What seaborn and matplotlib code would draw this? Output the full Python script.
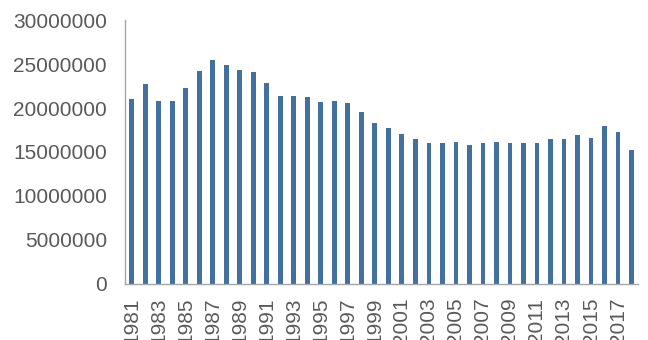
import matplotlib
matplotlib.use("Agg")
import matplotlib.pyplot as plt
import seaborn as sns
import pandas as pd
import numpy as np
from matplotlib.ticker import FixedLocator

years = list(range(1981, 2019))
values = [21.0, 22.7, 20.8, 20.8, 22.3, 24.25, 25.5, 24.9, 24.3, 24.05,
          22.9, 21.4, 21.4, 21.25, 20.7, 20.8, 20.55, 19.5, 18.3, 17.75,
          17.0, 16.45, 16.0, 16.0, 16.15, 15.85, 16.0, 16.15, 16.0, 16.0,
          16.0, 16.45, 16.45, 16.9, 16.6, 17.9, 17.3, 15.25]
values = [v * 1_000_000 for v in values]
yticks = [0, 5000000, 10000000, 15000000, 20000000, 25000000, 30000000]

df = pd.DataFrame({"year": [str(y) for y in years], "value": values})

sns.set_style("white")
plt.rcParams["font.family"] = ["Liberation Sans", "DejaVu Sans"]

fig = plt.figure(figsize=(6.48, 3.40), dpi=100)
ax = fig.add_axes([0.193, 0.165, 0.792, 0.776])

sns.barplot(data=df, x="year", y="value", color="#4271A0", width=0.36,
            saturation=1, ax=ax, edgecolor="none")

text_color = "#595959"
spine_color = "#A6A6A6"

ax.set_xlim(-0.5, len(years) - 0.5)
ax.set_ylim(0, 30000000)
ax.set_yticks(yticks)
ax.set_yticklabels([str(t) for t in yticks])

labels = [str(y) if i % 2 == 0 else "" for i, y in enumerate(years)]
ax.set_xticks(range(len(years)))
ax.set_xticklabels(labels, rotation=90, va="top", ha="center")
ax.xaxis.set_minor_locator(FixedLocator(np.arange(-0.5, len(years), 1.0)))

ax.tick_params(axis="x", which="major", length=0, pad=10, labelsize=15,
               labelcolor=text_color)
ax.tick_params(axis="x", which="minor", length=4, direction="in",
               color=spine_color, width=1)
ax.tick_params(axis="y", which="major", length=4, direction="in",
               color=spine_color, pad=13, labelsize=15, labelcolor=text_color)

for side in ("top", "right"):
    ax.spines[side].set_visible(False)
for side in ("left", "bottom"):
    ax.spines[side].set_color(spine_color)
    ax.spines[side].set_linewidth(1)

ax.set_xlabel("")
ax.set_ylabel("")
ax.grid(False)

fig.savefig("out.png", dpi=100)
